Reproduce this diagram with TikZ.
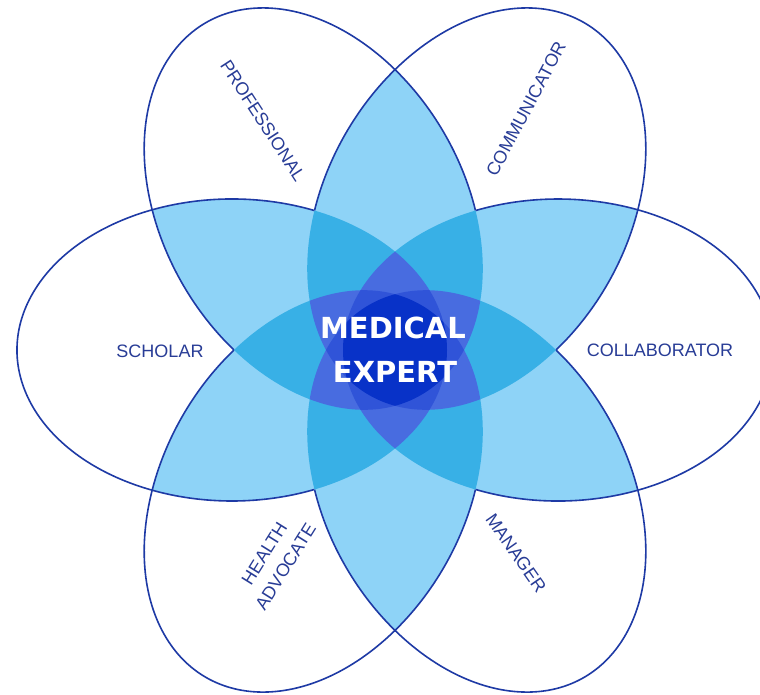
\documentclass[tikz,border=0pt]{standalone}
\usepackage{fontspec}
\setmainfont{Liberation Sans}
\newfontfamily\mefont{DejaVu Sans}
\definecolor{cTwo}{RGB}{142,211,247}
\definecolor{cThree}{RGB}{56,176,230}
\definecolor{cFour}{RGB}{72,108,224}
\definecolor{cFive}{RGB}{48,84,216}
\definecolor{cSix}{RGB}{8,50,200}
\definecolor{outl}{RGB}{30,58,165}
\definecolor{labc}{RGB}{40,60,150}
\def\ra{215}
\def\rb{151}
\def\rc{163}
\newcommand\petclip[1]{\clip[rotate=60*#1] (\rc,0) ellipse [x radius=\ra, y radius=\rb];}
\newcommand\petfill[2]{\fill[#2,rotate=60*#1] (\rc,0) ellipse [x radius=\ra, y radius=\rb];}
\newcommand\quadfill[4]{\begin{scope}\petclip{#1}\petclip{#2}\petclip{#3}\petfill{#4}{cFour}\end{scope}}
\newcommand\quinfill[5]{\begin{scope}\petclip{#1}\petclip{#2}\petclip{#3}\petclip{#4}\petfill{#5}{cFive}\end{scope}}
\tikzset{
  lab/.style={text=labc, inner sep=0pt, font=\fontsize{18}{24}\selectfont},
  me/.style={text=white, inner sep=0pt, font=\mefont\bfseries\fontsize{29}{34}\selectfont},
  ol/.style={draw=outl, line width=1.6pt}
}
\begin{document}
\begin{tikzpicture}[x=1pt,y=1pt]
\useasboundingbox (0,0) rectangle (760,-694);
\fill[white] (0,0) rectangle (760,-694);
\begin{scope}[shift={(395,-350)}]
  % two overlaps
  \foreach \i in {0,...,5}{\foreach \j in {0,...,5}{\ifnum\i<\j
    \begin{scope}\petclip{\i}\petfill{\j}{cTwo}\end{scope}\fi}}
  % three overlaps
  \foreach \i in {0,...,5}{\foreach \j in {0,...,5}{\foreach \k in {0,...,5}{%
    \ifnum\i<\j\ifnum\j<\k
    \begin{scope}\petclip{\i}\petclip{\j}\petfill{\k}{cThree}\end{scope}\fi\fi}}}
  % four overlaps
  \quadfill{2}{3}{4}{5}\quadfill{1}{3}{4}{5}\quadfill{1}{2}{4}{5}
  \quadfill{1}{2}{3}{5}\quadfill{1}{2}{3}{4}\quadfill{0}{3}{4}{5}
  \quadfill{0}{2}{4}{5}\quadfill{0}{2}{3}{5}\quadfill{0}{2}{3}{4}
  \quadfill{0}{1}{4}{5}\quadfill{0}{1}{3}{5}\quadfill{0}{1}{3}{4}
  \quadfill{0}{1}{2}{5}\quadfill{0}{1}{2}{4}\quadfill{0}{1}{2}{3}
  % five overlaps
  \quinfill{1}{2}{3}{4}{5}\quinfill{0}{2}{3}{4}{5}\quinfill{0}{1}{3}{4}{5}
  \quinfill{0}{1}{2}{4}{5}\quinfill{0}{1}{2}{3}{5}\quinfill{0}{1}{2}{3}{4}
  % six overlaps
  \begin{scope}\petclip{0}\petclip{1}\petclip{2}\petclip{3}\petclip{4}\petfill{5}{cSix}\end{scope}
  % outlines
  \foreach \i in {0,...,5}{
    \draw[ol, rotate=60*\i, shift={(\rc,0)}] (-112.5:\ra pt and \rb pt)
      arc[start angle=-112.5, end angle=112.5, x radius=\ra pt, y radius=\rb pt];}
\end{scope}
\node[lab] (scholar) at (160,-351) {SCHOLAR};
\node[lab] (collab) at (660,-350) {COLLABORATOR};
\node[lab, rotate=-57] (prof) at (263,-121) {PROFESSIONAL};
\node[lab, rotate=62] (comm) at (526,-109) {COMMUNICATOR};
\node[lab, rotate=-55] (mgr) at (516,-553) {MANAGER};
\node[lab, rotate=58, align=center, font=\fontsize{18}{25}\selectfont] (ha) at (275,-560) {HEALTH\\ADVOCATE};
\node[me] (med) at (393,-328) {MEDICAL};
\node[me] (exp) at (395,-372) {EXPERT};
\end{tikzpicture}
\end{document}
